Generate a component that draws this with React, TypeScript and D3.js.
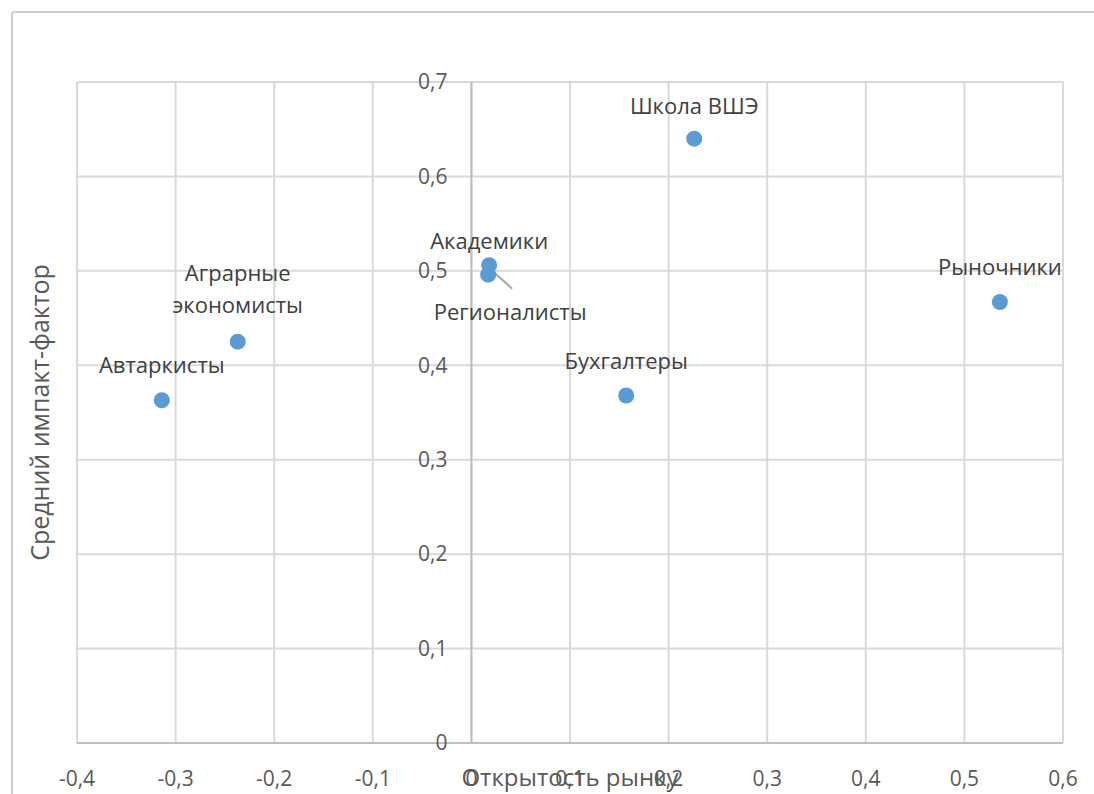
import * as d3 from 'd3'
import React from 'react'

const names = ['Школа ВШЭ', 'Академики', 'Регионалисты', 'Рыночники', 'Аграрные экономисты', 'Автаркисты', 'Бухгалтеры']
const openness = [0.226, 0.018, 0.017, 0.536, -0.237, -0.314, 0.157]
const impact = [0.64, 0.506, 0.496, 0.467, 0.425, 0.363, 0.368]
const xTicks = [-0.4, -0.3, -0.2, -0.1, 0, 0.1, 0.2, 0.3, 0.4, 0.5, 0.6]
const yTicks = [0, 0.1, 0.2, 0.3, 0.4, 0.5, 0.6, 0.7]

const W = 1094
const H = 794
const font = '"Open Sans", "Noto Sans", sans-serif'
const fmt = (v: number) => (Math.abs(v) < 1e-9 ? '0' : d3.format('.1f')(v).replace('.', ',').replace('−', '-'))

// label offsets relative to each point (px)
const labelPos: { dx: number; dy: number; lines?: string[] }[] = [
  { dx: 0, dy: -25 },
  { dx: 0, dy: -16 },
  { dx: 22, dy: 45 },
  { dx: 0, dy: -27 },
  { dx: 0, dy: -61, lines: ['Аграрные', 'экономисты'] },
  { dx: 0, dy: -27 },
  { dx: 0, dy: -27 },
]

export default function App() {
  const x = d3.scaleLinear().domain([-0.4, 0.6]).range([77, 1063])
  const y = d3.scaleLinear().domain([0, 0.7]).range([743, 82])
  const gridColor = '#d9d9d9'
  const textColor = '#595959'
  const labelColor = '#404040'

  return (
    <div style={{ position: 'absolute', left: 0, top: 0 }}>
      <svg width={W} height={H} style={{ display: 'block', fontFamily: font }}>
        <rect x={0} y={0} width={W} height={H} fill="#fff" />
        {/* chart frame */}
        <line x1={12} y1={12} x2={W} y2={12} stroke="#d0d0d0" strokeWidth={2} />
        <line x1={12} y1={12} x2={12} y2={H} stroke="#d0d0d0" strokeWidth={2} />

        {/* grid */}
        {xTicks.map(t => (
          <line key={'gx' + t} x1={x(t)} x2={x(t)} y1={y(0.7)} y2={y(0)} stroke={gridColor} strokeWidth={2} />
        ))}
        {yTicks.map(t => (
          <line key={'gy' + t} x1={x(-0.4)} x2={x(0.6)} y1={y(t)} y2={y(t)} stroke={gridColor} strokeWidth={2} />
        ))}
        {/* axes */}
        <line x1={x(0)} x2={x(0)} y1={y(0.7)} y2={y(0)} stroke="#bfbfbf" strokeWidth={2} />
        <line x1={x(-0.4)} x2={x(0.6)} y1={y(0)} y2={y(0)} stroke="#bfbfbf" strokeWidth={2} />

        {/* y tick labels */}
        {yTicks.map(t => (
          <text key={'ty' + t} x={x(0) - 24} y={y(t)} dy="0.35em" textAnchor="end" fontSize={21} fill={textColor}>
            {fmt(t)}
          </text>
        ))}
        {/* x tick labels */}
        {xTicks.map(t => (
          <text key={'tx' + t} x={x(t)} y={786} textAnchor="middle" fontSize={21} fill={textColor}>
            {fmt(t)}
          </text>
        ))}

        {/* axis titles */}
        <text x={570} y={786} textAnchor="middle" fontSize={24} fill={textColor}>
          Открытость рынку
        </text>
        <text
          transform={`translate(49, ${y(0.35)}) rotate(-90)`}
          textAnchor="middle"
          fontSize={25}
          fill={textColor}
        >
          Средний импакт-фактор
        </text>

        {/* leader line for Регионалисты */}
        <line x1={x(openness[2]) + 5} y1={y(impact[2]) - 3} x2={x(openness[2]) + 24} y2={y(impact[2]) + 14} stroke="#a6a6a6" strokeWidth={2} />

        {/* points */}
        {names.map((n, i) => (
          <circle key={'p' + n} cx={x(openness[i])} cy={y(impact[i])} r={8} fill="#5b9bd5" />
        ))}

        {/* data labels */}
        {names.map((n, i) => {
          const p = labelPos[i]
          const cx = x(openness[i]) + p.dx
          const cy = y(impact[i]) + p.dy
          const lines = p.lines ?? [n]
          return (
            <text key={'l' + n} x={cx} y={cy} textAnchor="middle" fontSize={22} fill={labelColor}>
              {lines.map((s, j) => (
                <tspan key={j} x={cx} dy={j === 0 ? 0 : 32}>
                  {s}
                </tspan>
              ))}
            </text>
          )
        })}
      </svg>
    </div>
  )
}
